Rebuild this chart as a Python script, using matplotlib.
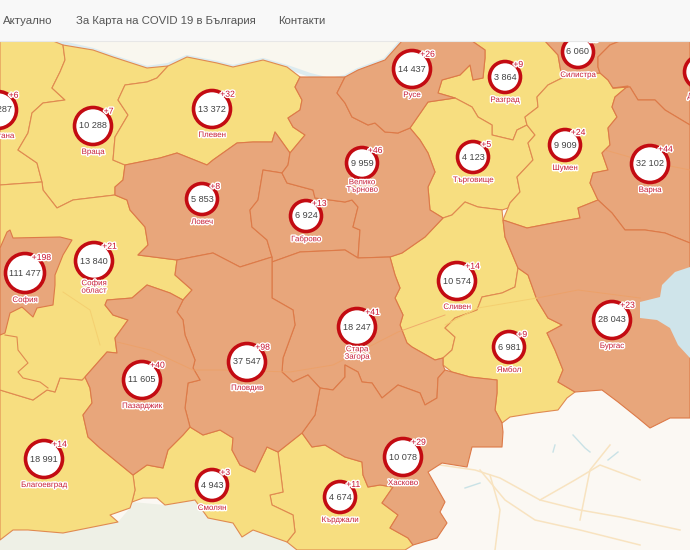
import matplotlib
matplotlib.use('Agg')
import matplotlib.pyplot as plt
import matplotlib.patheffects as pe
from matplotlib.patches import Polygon, Circle, Rectangle

plt.rcParams['font.family'] = ['Liberation Sans', 'DejaVu Sans']

# markers
names = ['Монтана', 'Враца', 'Плевен', 'Ловеч', 'Габрово', 'Велико\nТърново', 'Русе', 'Разград',
         'Силистра', 'Добрич', 'Търговище', 'Шумен', 'Варна', 'София', 'София\nобласт', 'Сливен',
         'Ямбол', 'Бургас', 'Стара\nЗагора', 'Пловдив', 'Пазарджик', 'Благоевград', 'Смолян',
         'Кърджали', 'Хасково']
totals = ['10 287', '10 288', '13 372', '5 853', '6 924', '9 959', '14 437', '3 864',
          '6 060', '8 512', '4 123', '9 909', '32 102', '111 477', '13 840', '10 574',
          '6 981', '28 043', '18 247', '37 547', '11 605', '18 991', '4 943',
          '4 674', '10 078']
plus = ['+6', '+7', '+32', '+8', '+13', '+46', '+26', '+9',
        '+15', '+12', '+5', '+24', '+44', '+198', '+21', '+14',
        '+9', '+23', '+41', '+98', '+40', '+14', '+3',
        '+11', '+29']
cx = [-2, 93, 212, 202, 306, 362, 412, 505, 578, 701, 473, 565, 650, 25, 94, 457,
      509, 612, 357, 247, 142, 44, 212, 340, 403]
cy = [110, 126, 109, 199, 216, 163, 69, 77, 52, 72, 157, 145, 164, 273, 261, 281,
      347, 320, 327, 362, 380, 459, 485, 497, 457]
radius = [20, 20, 20, 17, 17, 17, 20, 17, 17, 18, 17, 17, 20, 21, 20, 20,
          17, 20, 20, 20, 20, 20, 17, 17, 20]

# regions
montana = [(0,41),(53,41),(63,45),(65,60),(60,72),(52,88),(65,100),(43,103),(32,113),(28,133),(18,150),(37,163),(42,182),(0,185)]
vratsa = [(63,45),(93,50),(113,57),(147,68),(168,66),(157,78),(147,82),(125,85),(118,100),(128,115),(115,137),(113,160),(125,165),(123,180),(115,187),(115,195),(73,200),(57,208),(43,190),(42,182),(37,163),(18,150),(28,133),(32,113),(43,103),(65,100),(52,88),(60,72),(65,60)]
pleven = [(168,66),(187,57),(217,63),(233,67),(263,60),(287,67),(300,77),(295,87),(302,100),(300,110),(288,118),(293,127),(305,135),(290,153),(275,132),(272,142),(253,142),(237,143),(213,160),(207,165),(177,153),(160,158),(125,165),(113,160),(115,137),(128,115),(118,100),(125,85),(147,82),(157,78)]
lovech = [(125,165),(160,158),(177,153),(207,165),(213,160),(237,143),(253,142),(272,142),(275,132),(290,153),(288,165),(282,173),(263,170),(258,200),(250,210),(252,227),(267,240),(272,257),(240,267),(213,253),(177,260),(138,255),(148,245),(145,227),(130,210),(127,200),(115,195),(115,187),(123,180)]
gabrovo = [(263,170),(282,173),(287,183),(313,190),(315,198),(345,202),(352,200),(358,207),(353,227),(360,230),(358,258),(345,250),(300,252),(272,262),(272,257),(267,240),(252,227),(250,210),(258,200)]
tarnovo = [(300,77),(345,77),(337,93),(345,103),(352,117),(368,125),(375,123),(385,132),(398,133),(410,128),(420,140),(428,153),(435,172),(428,187),(430,210),(443,218),(425,237),(402,253),(390,257),(358,258),(360,230),(353,227),(358,207),(352,200),(345,202),(315,198),(313,190),(287,183),(282,173),(288,165),(290,153),(305,135),(293,127),(288,118),(300,110),(302,100),(295,87)]
ruse = [(345,77),(358,70),(385,60),(402,41),(472,41),(485,50),(485,58),(483,78),(473,80),(470,65),(460,75),(442,80),(438,93),(455,98),(428,102),(410,128),(398,133),(385,132),(375,123),(368,125),(352,117),(345,103),(337,93)]
razgrad = [(472,41),(545,41),(558,55),(562,78),(548,85),(537,97),(538,107),(525,117),(527,125),(517,130),(513,140),(492,135),(492,125),(478,117),(472,107),(455,98),(438,93),(442,80),(460,75),(470,65),(473,80),(483,78),(485,58),(485,50)]
silistra = [(545,41),(620,41),(610,45),(598,57),(598,67),(600,73),(575,75),(562,78),(558,55)]
dobrich = [(620,41),(690,41),(690,125),(665,110),(655,100),(638,100),(630,87),(613,88),(608,80),(600,73),(598,67),(598,57),(610,45)]
targovishte = [(410,128),(428,102),(455,98),(472,107),(478,117),(492,125),(492,135),(513,140),(517,130),(527,125),(535,135),(528,143),(533,160),(517,177),(520,192),(510,203),(508,208),(502,210),(478,207),(465,202),(452,215),(443,218),(430,210),(428,187),(435,172),(428,153),(420,140)]
shumen = [(562,78),(575,75),(600,73),(608,80),(613,88),(628,86),(615,97),(612,107),(617,117),(608,128),(610,145),(602,153),(608,170),(593,173),(590,183),(598,200),(578,208),(580,218),(558,222),(527,228),(503,220),(508,208),(510,203),(520,192),(517,177),(533,160),(528,143),(535,135),(527,125),(525,117),(538,107),(537,97),(548,85)]
varna = [(613,88),(630,87),(638,100),(655,100),(665,110),(690,125),(690,243),(665,233),(645,230),(625,230),(612,213),(598,200),(590,183),(593,173),(608,170),(602,153),(610,145),(608,128),(617,117),(612,107),(615,97),(628,86)]
burgas = [(503,220),(527,228),(558,222),(580,218),(578,208),(598,200),(612,213),(625,230),(645,230),(665,233),(690,243),(690,418),(670,418),(650,428),(638,418),(618,402),(602,390),(575,392),(558,382),(563,370),(555,350),(547,333),(562,325),(548,318),(537,300),(528,275),(518,268),(505,237)]
sliven = [(390,257),(402,253),(425,237),(443,218),(452,215),(465,202),(478,207),(502,210),(503,220),(505,237),(518,268),(515,287),(502,293),(482,297),(477,310),(455,318),(445,328),(455,337),(452,350),(443,358),(435,360),(412,347),(407,343),(400,325),(403,315),(395,298),(400,288),(395,275)]
yambol = [(518,268),(528,275),(537,300),(548,318),(562,325),(547,333),(555,350),(563,370),(558,382),(575,392),(567,398),(558,410),(535,413),(510,417),(502,423),(495,410),(497,393),(497,380),(478,378),(470,377),(452,372),(443,365),(443,358),(452,350),(455,337),(445,328),(455,318),(477,310),(482,297),(502,293),(515,287)]
zagora = [(272,262),(300,252),(345,250),(358,258),(390,257),(395,275),(400,288),(395,298),(403,315),(400,325),(407,343),(412,347),(435,360),(443,358),(443,365),(445,370),(438,378),(437,398),(425,405),(420,393),(398,385),(382,398),(372,383),(362,382),(358,372),(345,365),(345,377),(333,390),(320,388),(308,375),(293,382),(282,372),(283,358),(295,325),(293,310),(272,298)]
haskovo = [(320,388),(333,390),(345,377),(345,365),(358,372),(362,382),(372,383),(382,398),(398,385),(420,393),(425,405),(437,398),(438,378),(445,370),(452,372),(470,377),(497,380),(497,393),(495,410),(502,423),(503,432),(502,447),(472,447),(467,467),(442,463),(428,472),(445,502),(440,512),(447,523),(437,538),(413,545),(408,538),(390,528),(398,515),(382,503),(393,487),(380,485),(368,487),(363,475),(362,462),(345,457),(325,445),(312,447),(302,433),(315,415)]
kardzhali = [(302,433),(312,447),(325,445),(345,457),(362,462),(363,475),(368,487),(380,485),(393,487),(382,503),(398,515),(390,528),(408,538),(413,545),(405,550),(297,550),(287,542),(295,532),(293,515),(272,505),(270,495),(283,492),(278,452)]
smolyan = [(133,475),(147,465),(163,468),(168,450),(183,435),(190,427),(203,435),(220,430),(233,438),(232,450),(240,465),(255,472),(267,447),(278,452),(283,492),(270,495),(272,505),(293,515),(295,532),(287,542),(253,530),(242,537),(233,523),(208,518),(195,500),(165,505),(157,498),(143,498),(132,502),(135,490)]
plovdiv = [(177,260),(213,253),(240,267),(272,257),(272,298),(293,310),(295,325),(283,358),(282,372),(293,382),(308,375),(320,388),(315,415),(302,433),(278,452),(267,447),(255,472),(240,465),(232,450),(233,438),(220,430),(203,435),(190,427),(185,408),(188,383),(200,380),(193,368),(195,360),(185,335),(183,320),(177,312),(183,300),(192,290),(175,275)]
pazardzhik = [(85,377),(90,388),(92,403),(83,415),(88,437),(100,448),(133,475),(147,465),(163,468),(168,450),(183,435),(190,427),(185,408),(188,383),(200,380),(193,368),(195,360),(185,335),(183,320),(177,312),(183,300),(170,293),(147,285),(132,298),(107,300),(105,305),(113,315),(128,320),(115,338),(117,353),(107,352)]
blagoevgrad = [(0,390),(33,400),(47,390),(55,392),(60,378),(82,380),(85,377),(90,388),(92,403),(83,415),(88,437),(100,448),(133,475),(135,490),(132,502),(130,508),(110,515),(118,522),(63,533),(28,530),(13,530),(0,540)]
sofia_obl = [(0,185),(42,182),(43,190),(57,208),(73,200),(115,195),(127,200),(130,210),(145,227),(148,245),(138,255),(177,260),(175,275),(192,290),(183,300),(170,293),(147,285),(132,298),(107,300),(105,305),(113,315),(128,320),(115,338),(117,353),(107,352),(85,377),(82,380),(60,378),(55,392),(47,390),(33,400),(0,390)]
sofia_city = [(0,248),(7,232),(10,230),(13,238),(60,237),(72,240),(63,255),(55,275),(55,285),(53,305),(37,308),(33,317),(22,307),(10,313),(5,333),(0,335)]

yellow_regions = [montana, vratsa, pleven, razgrad, targovishte, shumen, sliven, yambol,
                  kardzhali, smolyan, blagoevgrad, sofia_obl]
orange_regions = [silistra, lovech, gabrovo, tarnovo, ruse, dobrich, varna, burgas, zagora, haskovo,
                  plovdiv, pazardzhik, sofia_city]

pernik_line = [(5,335),(17,337),(18,350),(28,363),(18,372),(23,378),(40,382),(48,388)]
sea = [(690,267),(675,272),(662,285),(660,297),(640,302),(640,318),(657,320),(670,328),(678,345),(690,358)]
romania = [(0,41),(402,41),(385,60),(358,70),(345,77),(330,80),(310,75),(287,67),(263,60),(233,67),(217,63),(187,57),(168,65),(147,68),(113,57),(93,50),(53,41)]
danube = [(53,41),(93,50),(113,57),(147,68),(168,65),(187,57),(217,63),(233,67),(263,60),(287,67),(310,75),(330,80),(345,77),(358,70),(385,60),(402,41)]
greece_west = [(0,540),(13,530),(63,533),(118,522),(130,508),(132,502),(165,505),(195,500),(233,523),(287,542),(300,550),(0,550)]
roads_land = [[(440,465),(475,470),(500,478),(540,500),(580,510),(620,517),(680,530)],
              [(480,470),(505,500),(535,520),(580,530),(640,545)],
              [(580,520),(590,470),(610,445)],
              [(490,475),(500,510),(495,550)],
              [(540,500),(575,480),(600,465),(640,480)]]
rivers_land = [[(465,488),(480,483)], [(573,435),(585,448),(590,452)], [(608,460),(618,452)], [(555,445),(553,452)]]
roads_orange = [[(117,342),(150,350),(193,370),(223,370),(290,372),(333,365),(398,332),(445,315)],
                [(537,298),(578,290),(640,298)],
                [(605,150),(640,160),(690,170)]]
roads_yellow = [[(63,292),(90,310),(100,345)], [(445,325),(478,308),(537,298)]]

fig = plt.figure(figsize=(6.9, 5.5), dpi=100)
ax = fig.add_axes([0, 0, 1, 1])
ax.set_xlim(0, 690)
ax.set_ylim(550, 0)
ax.axis('off')
ax.add_patch(Rectangle((0, 0), 690, 550, fc='#fbf8f3', ec='none', zorder=0))
ax.add_patch(Polygon(romania, fc='#f9f7ef', ec='none', zorder=1))
ax.add_patch(Polygon(greece_west, fc='#eef0e6', ec='none', zorder=1))
ax.plot(*zip(*danube), color='#dcebef', lw=3, zorder=1)

for r in roads_land:
    ax.plot(*zip(*r), color='#f8e3c0', lw=1.1, zorder=2)
for r in rivers_land:
    ax.plot(*zip(*r), color='#c9e2e6', lw=1, zorder=2)

for r in yellow_regions:
    ax.add_patch(Polygon(r, fc='#f7de80', ec='#e08a50', lw=0.8, joinstyle='round', zorder=3))
for r in orange_regions:
    ax.add_patch(Polygon(r, fc='#e8a67b', ec='#dd7a48', lw=0.8, joinstyle='round', zorder=4))
ax.plot(*zip(*pernik_line), color='#e08a50', lw=0.8, zorder=5)
for r in roads_orange:
    ax.plot(*zip(*r), color='#eda066', lw=0.7, alpha=0.8, zorder=5)
for r in roads_yellow:
    ax.plot(*zip(*r), color='#f4cf70', lw=0.7, zorder=5)
ax.add_patch(Polygon(sea, fc='#cfe4ea', ec='none', zorder=6))

halo = [pe.withStroke(linewidth=2.0, foreground='white')]
for i in range(len(names)):
    ax.add_patch(Circle((cx[i], cy[i]), radius[i] - 1.5, fc='white', ec='#c30b12', lw=2.6, zorder=7))
    ax.text(cx[i], cy[i], totals[i], ha='center', va='center', fontsize=6.6, color='#444444', zorder=8)
    ax.text(cx[i] + radius[i] * 0.78, cy[i] - radius[i] * 0.74, plus[i], ha='center', va='center',
            fontsize=6.2, color='#c8102e', path_effects=halo, zorder=9)
    ax.text(cx[i], cy[i] + radius[i] + 6.5, names[i], ha='center', va='center',
            fontsize=5.7, color='#c8203a', linespacing=1.1, path_effects=halo, zorder=9)

# navbar on top of the map
ax.add_patch(Rectangle((0, 0), 690, 40.5, fc='#f8f8f8', ec='none', zorder=20))
ax.plot([0, 690], [40.5, 40.5], color='#e7e7e7', lw=0.8, zorder=21)
ax.text(3, 20.5, 'Актуално', fontsize=8.2, color='#555555', va='center', zorder=22)
ax.text(76, 20.5, 'За Карта на COVID 19 в България', fontsize=8.2, color='#555555', va='center', zorder=22)
ax.text(278, 20.5, 'Контакти', fontsize=8.2, color='#555555', va='center', zorder=22)

fig.savefig('out.png', dpi=100)
